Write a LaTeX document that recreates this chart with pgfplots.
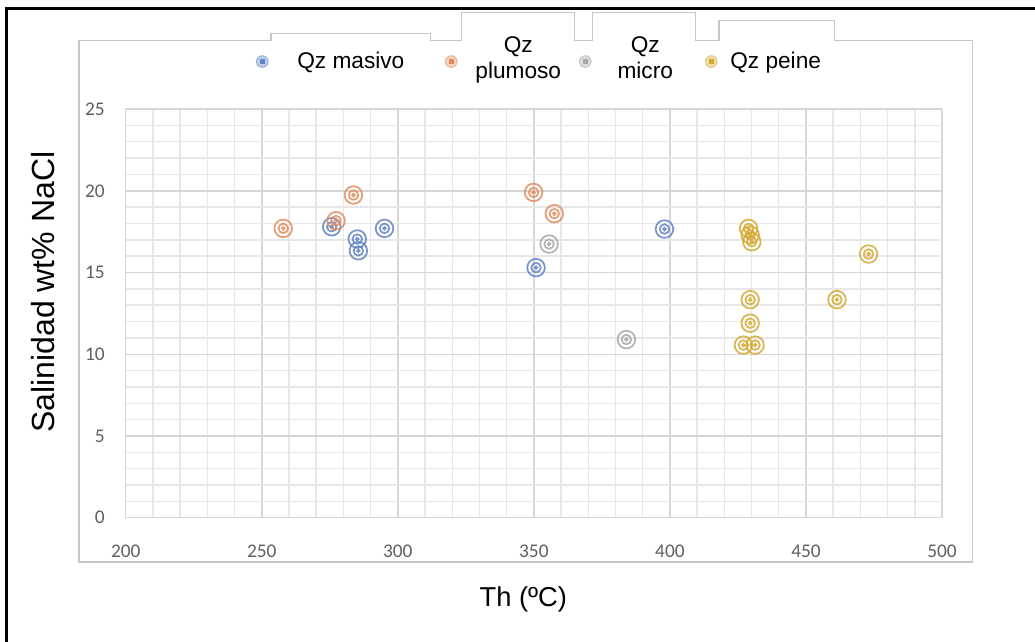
\documentclass[border=0pt]{standalone}
\usepackage{fontspec}
\setmainfont{Liberation Sans}
\newfontfamily\tickfont{Carlito}
\usepackage{pgfplots}
\pgfplotsset{compat=1.18}
\definecolor{cBlue}{RGB}{98,131,196}
\definecolor{cOrange}{RGB}{226,139,92}
\definecolor{cGray}{RGB}{168,168,168}
\definecolor{cGold}{RGB}{212,170,50}
\definecolor{gMaj}{RGB}{214,214,214}
\definecolor{gMin}{RGB}{231,231,231}
\definecolor{tickgray}{RGB}{95,95,95}
\pgfdeclareplotmark{ring}{%
  \pgfpathcircle{\pgfpointorigin}{\pgfplotmarksize}\pgfusepathqstroke
  \pgfpathcircle{\pgfpointorigin}{0.54\pgfplotmarksize}\pgfusepathqstroke
  \pgfpathcircle{\pgfpointorigin}{0.15\pgfplotmarksize}\pgfusepathqstroke}
\newcommand{\lgmark}[3]{%
  \path[draw=none, fill=none] (-#2,0pt) (#3,0pt);
  \draw[#1!70, fill=#1!40, line width=0.6pt] (0pt,0pt) circle (4.4pt);
  \fill[#1] (-1.4pt,-1.4pt) rectangle (1.4pt,1.4pt);}
\newcommand{\PX}[2]{({#1*0.75pt},{(642-#2)*0.75pt})}
\begin{document}
\begin{tikzpicture}
\useasboundingbox (0,0) rectangle (776.25pt,481.5pt);
\fill[white] (0,0) rectangle (776.25pt,481.5pt);
% outer black frame
\draw[black, line width=2.2pt] \PX{6.7}{642} -- \PX{6.7}{8.3} -- \PX{1040}{8.3};
% chart area with tabs
\draw[gray!45, line width=0.8pt] \PX{79}{40.7} -- \PX{271}{40.7} -- \PX{271}{33.3} -- \PX{430.7}{33.3} -- \PX{430.7}{40.7}
  -- \PX{461.7}{40.7} -- \PX{461.7}{12.3} -- \PX{574.3}{12.3} -- \PX{574.3}{40.7}
  -- \PX{592.7}{40.7} -- \PX{592.7}{12.3} -- \PX{695.7}{12.3} -- \PX{695.7}{40.7}
  -- \PX{719}{40.7} -- \PX{719}{20.7} -- \PX{834.3}{20.7} -- \PX{834.3}{40.7}
  -- \PX{972.3}{40.7} -- \PX{972.3}{562} -- \PX{79}{562} -- cycle;
\begin{axis}[
  at={(94.3pt,93.2pt)}, anchor=south west,
  width=612.2pt, height=306.5pt, scale only axis,
  xmin=200, xmax=500, ymin=0, ymax=25,
  xtick={200,250,...,500}, ytick={0,5,...,25},
  minor x tick num=4, minor y tick num=4,
  grid=both,
  major grid style={gMaj, line width=1.1pt},
  minor grid style={gMin, line width=1.1pt},
  axis line style={draw=none},
  tick style={draw=none},
  major tick length=0pt, minor tick length=0pt,
  /pgf/number format/assume math mode=true,
  ticklabel style={font=\tickfont\fontsize{14.5}{16}\selectfont, text=tickgray},
  xticklabel style={anchor=center, yshift=-25pt, inner sep=0pt},
  yticklabel style={anchor=east, xshift=-15.6pt, inner sep=0pt},
  xlabel={Th (ºC)},
  ylabel={Salinidad wt\% NaCl},
  xlabel style={at={(axis description cs:0.487,-0.199)}, anchor=center, font=\fontsize{20.5}{24}\selectfont},
  ylabel style={at={(axis description cs:-0.1013,0.552)}, anchor=center, font=\fontsize{24}{28}\selectfont},
  legend columns=4,
  legend cell align=left,
  legend style={draw=none, fill=none, inner sep=0pt, column sep=0pt, row sep=0pt,
    at={(axis description cs:0.1547,1.1162)}, anchor=west,
    nodes={inner sep=0pt}, font=\fontsize{17}{19.5}\selectfont},
  mark size=6.6pt,
]
\addplot[only marks, mark=ring, draw=cBlue, mark options={line width=1.3pt, draw opacity=0.85},
  legend image code/.code={\lgmark{cBlue}{7.5pt}{26.25pt}}]
  coordinates {(275.7,17.8) (285.1,17.05) (285.5,16.33) (295.1,17.7) (350.8,15.3) (398,17.66)};
\addlegendentry{\makebox[108pt][l]{Qz masivo}}
\addplot[only marks, mark=ring, draw=cOrange, mark options={line width=1.3pt, draw opacity=0.85},
  legend image code/.code={\lgmark{cOrange}{7.5pt}{7.5pt}}]
  coordinates {(257.9,17.7) (283.7,19.74) (277.3,18.17) (349.9,19.9) (357.5,18.6)};
\addlegendentry{\makebox[85.5pt][c]{\raisebox{15pt}{\begin{tabular}{@{}c@{}}Qz\\plumoso\end{tabular}}}}
\addplot[only marks, mark=ring, draw=cGray, mark options={line width=1.3pt, draw opacity=0.85},
  legend image code/.code={\lgmark{cGray}{7.5pt}{7.5pt}}]
  coordinates {(355.6,16.74) (384,10.9)};
\addlegendentry{\makebox[75pt][c]{\raisebox{15pt}{\begin{tabular}{@{}c@{}}Qz\\micro\end{tabular}}}}
\addplot[only marks, mark=ring, draw=cGold, mark options={line width=1.3pt, draw opacity=0.85},
  legend image code/.code={\lgmark{cGold}{12pt}{14.25pt}}]
  coordinates {(428.9,17.7) (429.5,17.3) (430.1,16.88) (429.5,13.34) (429.5,11.9) (427,10.56) (431.3,10.56) (461.4,13.34) (473,16.13)};
\addlegendentry{\makebox[75pt][l]{Qz peine}}
\end{axis}
\end{tikzpicture}
\end{document}
